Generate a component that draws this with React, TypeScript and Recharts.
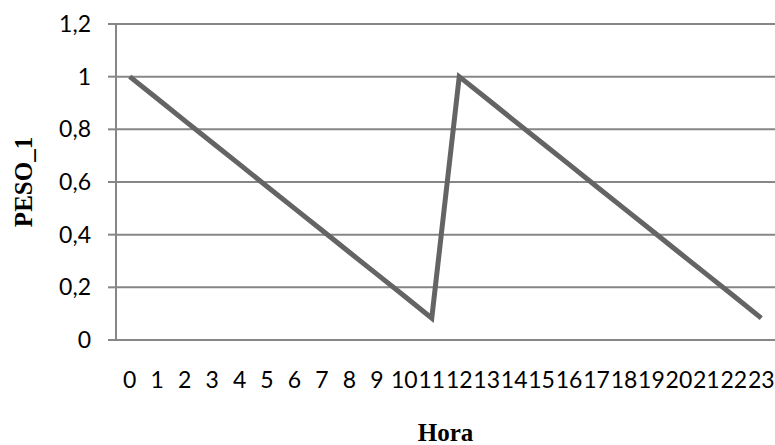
import { LineChart, Line, XAxis, YAxis, CartesianGrid, Label } from 'recharts';

// Hora (0-23) and PESO_1 values
const horas = [0, 1, 2, 3, 4, 5, 6, 7, 8, 9, 10, 11, 12, 13, 14, 15, 16, 17, 18, 19, 20, 21, 22, 23];
const peso1 = [
  1, 0.917, 0.833, 0.75, 0.667, 0.583, 0.5, 0.417, 0.333, 0.25, 0.167, 0.083,
  1, 0.917, 0.833, 0.75, 0.667, 0.583, 0.5, 0.417, 0.333, 0.25, 0.167, 0.083,
];
const yTicks = [0, 0.2, 0.4, 0.6, 0.8, 1, 1.2];

const data = horas.map((h, i) => ({ hora: h, peso: peso1[i] }));

const GRID = '#868686';
const tickFont = { fontFamily: 'Lato, "Open Sans", sans-serif', fontSize: 23, fill: '#000' };
const titleFont = { fontFamily: '"Liberation Serif", "Times New Roman", serif', fontSize: 25, fontWeight: 700 };

const fmt = (v: number) => String(v).replace('.', ',');

export default function App() {
  return (
    <div style={{ position: 'absolute', left: 0, top: 0 }}>
      <LineChart width={775} height={445} data={data} margin={{ top: 24, right: 0, bottom: 75, left: 0 }}>
        <CartesianGrid vertical={false} stroke={GRID} strokeWidth={2} />
        <XAxis
          dataKey="hora"
          type="number"
          domain={[-0.5, 23.5]}
          ticks={horas}
          interval={0}
          tickSize={0}
          tickMargin={32}
          tick={tickFont}
          axisLine={{ stroke: GRID, strokeWidth: 2 }}
        >
          <Label
            content={(props: any) => {
              const vb = props.viewBox || {};
              return (
                <text x={vb.x + vb.width / 2} y={441} textAnchor="middle" style={titleFont}>
                  Hora
                </text>
              );
            }}
          />
        </XAxis>
        <YAxis
          width={116}
          domain={[0, 1.2]}
          ticks={yTicks}
          tickFormatter={fmt}
          tickSize={8}
          tickMargin={17}
          tick={tickFont}
          tickLine={{ stroke: GRID, strokeWidth: 2 }}
          axisLine={{ stroke: GRID, strokeWidth: 2 }}
        >
          <Label
            content={(props: any) => {
              const vb = props.viewBox || {};
              const cy = vb.y + vb.height / 2;
              return (
                <text x={32} y={cy} transform={`rotate(-90 32 ${cy})`} textAnchor="middle" style={titleFont}>
                  PESO_1
                </text>
              );
            }}
          />
        </YAxis>
        <Line
          type="linear"
          dataKey="peso"
          stroke="#646464"
          strokeWidth={5}
          dot={false}
          activeDot={false}
          isAnimationActive={false}
        />
      </LineChart>
    </div>
  );
}
